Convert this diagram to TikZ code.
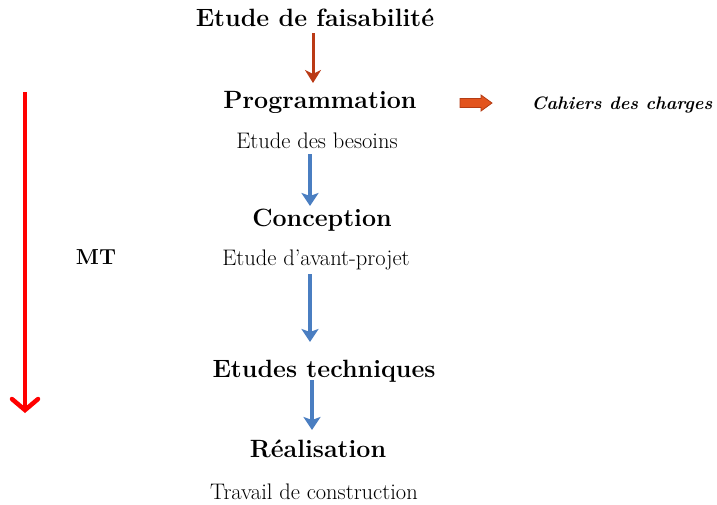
\documentclass[tikz,border=0pt]{standalone}
\usetikzlibrary{arrows.meta}
\definecolor{brownred}{RGB}{186,58,22}
\definecolor{stepblue}{RGB}{74,126,193}
\definecolor{orangefill}{RGB}{226,84,30}
\definecolor{orangeedge}{RGB}{180,60,20}
\definecolor{mtred}{RGB}{255,0,0}
\tikzset{
  title/.style={font=\fontsize{25}{27}\selectfont\bfseries, inner sep=0pt, anchor=base},
  sub/.style={font=\fontsize{22.5}{24}\selectfont, inner sep=0pt, anchor=base},
  bluearrow/.style={draw=stepblue, line width=4.5pt, -{Stealth[length=13pt,width=17pt,inset=3pt]}},
}
\begin{document}
\begin{tikzpicture}[x=1pt,y=-1pt]
\useasboundingbox (0,0) rectangle (717,504);
\node[title] (fais) at (315,26) {Etude de faisabilité};
\node[title] (prog) at (320,108) {Programmation};
\node[sub] (bes) at (317,148) {Etude des besoins};
\node[title] (conc) at (322,226) {Conception};
\node[sub] (avp) at (316,265) {Etude d'avant-projet};
\node[title] (tech) at (324,377) {Etudes techniques};
\node[title] (real) at (318,457) {Réalisation};
\node[sub] (trav) at (314,499) {Travail de construction};
\node[font=\fontsize{18}{20}\selectfont\bfseries\itshape, inner sep=0pt, anchor=base] (cah) at (622,109) {Cahiers des charges};
\node[font=\fontsize{21.7}{23}\selectfont\bfseries, inner sep=0pt, anchor=base] (mt) at (96,264) {MT};
% arrow ends
\coordinate (a1s) at (313,33); \coordinate (a1e) at (313,83);
\coordinate (b1s) at (310,154); \coordinate (b1e) at (310,206);
\coordinate (b2s) at (310,274); \coordinate (b2e) at (310,342);
\coordinate (b3s) at (312,380); \coordinate (b3e) at (312,430);
\coordinate (rs) at (25,92); \coordinate (re) at (25,413);
\draw[brownred, line width=3pt, -{Stealth[length=13pt,width=16pt,inset=4pt]}] (a1s) -- (a1e);
\draw[bluearrow] (b1s) -- (b1e);
\draw[bluearrow] (b2s) -- (b2e);
\draw[bluearrow] (b3s) -- (b3e);
\draw[mtred, line width=4.5pt, -{Straight Barb[length=11pt,width=26pt,line cap=round]}] (rs) -- (re);
% orange block arrow
\filldraw[fill=orangefill, draw=orangeedge, line width=0.8pt]
  (460,98.5) -- (481,98.5) -- (481,95) -- (492,103) -- (481,111) -- (481,107.5) -- (460,107.5) -- cycle;
\end{tikzpicture}
\end{document}
